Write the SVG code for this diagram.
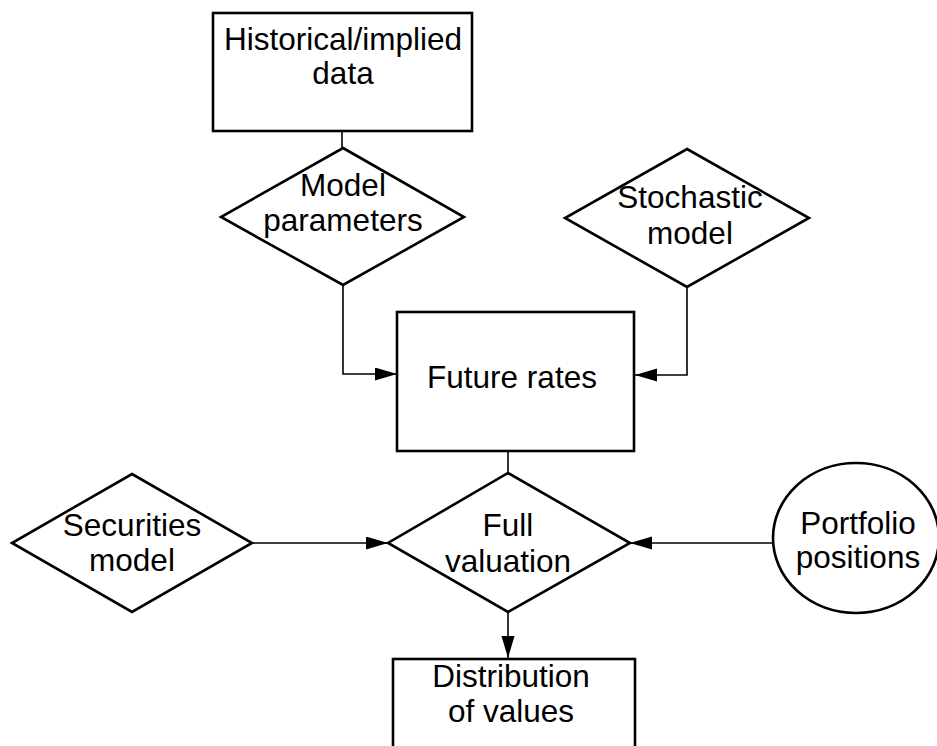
<svg xmlns="http://www.w3.org/2000/svg" width="937" height="746" viewBox="0 0 937 746">
<style>
.shape{fill:#fff;stroke:#000;stroke-width:2.6}
.conn{fill:none;stroke:#000;stroke-width:1.6}
text{font-family:"Liberation Sans",Arial,sans-serif;font-size:31.5px;fill:#000;text-anchor:middle}
</style>
<defs>
<marker id="arr" markerUnits="userSpaceOnUse" markerWidth="24" markerHeight="14" refX="22" refY="6.5" orient="auto">
<path d="M0,0 L22,6.5 L0,13 Z" fill="#000"/>
</marker>
</defs>
<rect width="937" height="746" fill="#fff"/>
<g id="connectors">
<line class="conn" x1="342" y1="131" x2="342" y2="148"/>
<polyline class="conn" points="343,285 343,374 397,374" marker-end="url(#arr)"/>
<polyline class="conn" points="687,287 687,375 635,375" marker-end="url(#arr)"/>
<line class="conn" x1="508" y1="451" x2="508" y2="473"/>
<line class="conn" x1="252" y1="543" x2="388" y2="543" marker-end="url(#arr)"/>
<line class="conn" x1="773" y1="543" x2="630" y2="543" marker-end="url(#arr)"/>
<line class="conn" x1="508" y1="612" x2="508" y2="658" marker-end="url(#arr)"/>
</g>
<g id="historical">
<rect class="shape" x="213" y="13" width="259" height="118"/>
<text x="343" y="50">Historical/implied</text>
<text x="343" y="84">data</text>
</g>
<g id="model-parameters">
<polygon class="shape" points="343,148 464,217 343,285 221,217"/>
<text x="343" y="196">Model</text>
<text x="343" y="231">parameters</text>
</g>
<g id="stochastic-model">
<polygon class="shape" points="687,149 809,218 687,287 565,218"/>
<text x="690" y="208">Stochastic</text>
<text x="690" y="244">model</text>
</g>
<g id="future-rates">
<rect class="shape" x="397" y="312" width="237" height="139"/>
<text x="512" y="388">Future rates</text>
</g>
<g id="securities-model">
<polygon class="shape" points="132,474 252,543 132,612 12,543"/>
<text x="132" y="536">Securities</text>
<text x="132" y="571">model</text>
</g>
<g id="full-valuation">
<polygon class="shape" points="508,473 630,543 508,612 388,543"/>
<text x="508" y="536">Full</text>
<text x="508" y="572">valuation</text>
</g>
<g id="portfolio-positions">
<ellipse class="shape" cx="856" cy="538" rx="83" ry="75"/>
<text x="858" y="534">Portfolio</text>
<text x="858" y="568">positions</text>
</g>
<g id="distribution">
<rect class="shape" x="393" y="659" width="242" height="100"/>
<text x="511" y="687">Distribution</text>
<text x="511" y="722">of values</text>
</g>
</svg>
